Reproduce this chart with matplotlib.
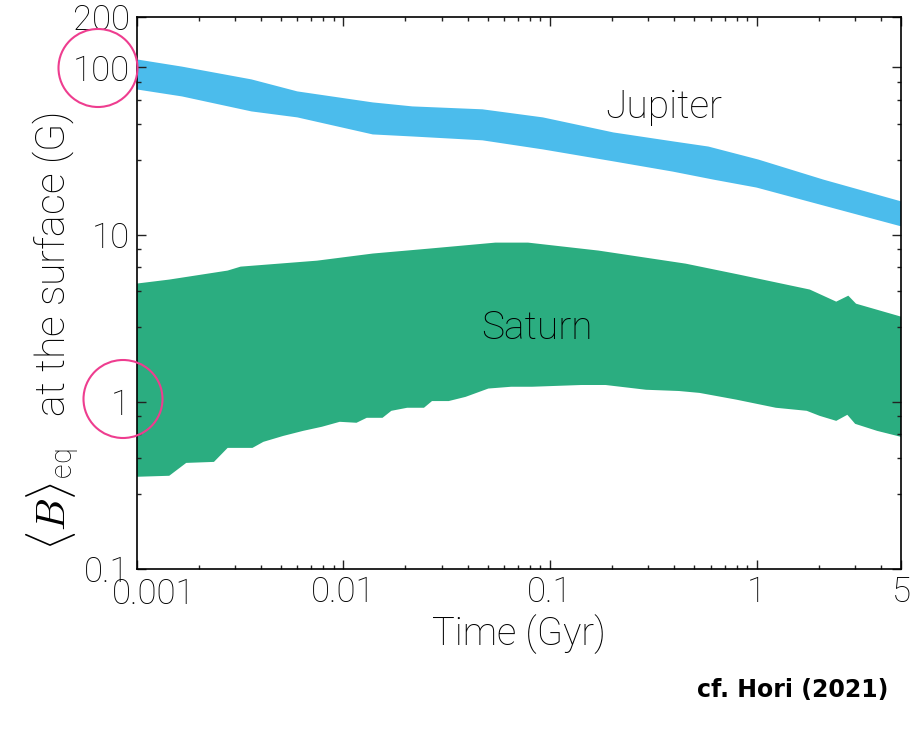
import numpy as np
import matplotlib
matplotlib.use('Agg')
import matplotlib.pyplot as plt
import matplotlib.transforms as mtransforms
from matplotlib.patches import Ellipse

plt.rcParams['font.family'] = ['Roboto', 'DejaVu Sans']
plt.rcParams['font.weight'] = 'light'
plt.rcParams['axes.labelweight'] = 'light'
plt.rcParams['mathtext.fontset'] = 'cm'

# Jupiter band (Gyr, Gauss)
jup_up_t = [0.001, 0.00166, 0.0036, 0.0060, 0.0139, 0.0216, 0.0472, 0.0925, 0.203, 0.393, 0.585, 1.02, 2.11, 5.0]
jup_up_b = [111.6, 101.0, 84.7, 71.8, 61.7, 58.4, 56.1, 50.2, 40.8, 36.1, 33.6, 28.1, 21.3, 15.8]
jup_lo_t = [0.001, 0.00166, 0.0036, 0.0060, 0.0139, 0.0216, 0.0472, 0.0925, 0.203, 0.393, 0.62, 1.0, 5.0]
jup_lo_b = [73.8, 67.0, 54.5, 50.2, 39.7, 38.6, 36.6, 32.3, 27.4, 23.8, 21.3, 19.1, 11.2]

# Saturn band
sat_up_t = [0.001, 0.00144, 0.00276, 0.00319, 0.00747, 0.0139, 0.0260, 0.0545, 0.0784, 0.172,
            0.454, 0.824, 1.81, 2.43, 2.78, 3.03, 5.0]
sat_up_b = [5.09, 5.38, 6.09, 6.43, 6.98, 7.70, 8.24, 8.95, 8.95, 8.02,
            6.70, 5.76, 4.69, 3.97, 4.31, 3.86, 3.23]
sat_lo_t = [0.001, 0.00144, 0.00174, 0.00237, 0.00276, 0.00364, 0.00411, 0.00513, 0.00640, 0.00789,
            0.00962, 0.0116, 0.0130, 0.0155, 0.0171, 0.0204, 0.0246, 0.0269, 0.0324, 0.0391,
            0.0504, 0.0650, 0.0820, 0.142, 0.186, 0.292, 0.421, 0.530, 0.798, 1.24,
            1.75, 2.02, 2.43, 2.75, 3.00, 3.83, 5.0]
sat_lo_b = [0.356, 0.361, 0.431, 0.437, 0.530, 0.530, 0.576, 0.625, 0.670, 0.709,
            0.759, 0.749, 0.802, 0.802, 0.883, 0.921, 0.921, 1.01, 1.01, 1.07,
            1.20, 1.23, 1.23, 1.26, 1.26, 1.18, 1.16, 1.13, 1.03, 0.921,
            0.883, 0.824, 0.769, 0.836, 0.738, 0.670, 0.617]

xticks = [0.001, 0.01, 0.1, 1, 5]
xticklabels = ['0.001', '0.01', '0.1', '1', '5']
yticks = [0.1, 1, 10, 100, 200]
yticklabels = ['0.1', '1', '10', '100', '200']
# minor y ticks are evenly spaced in value (1.8 steps) in the original
yminor = [0.28, 0.46, 0.64, 0.82, 2.8, 4.6, 6.4, 8.2, 28, 46, 64, 82]

fig = plt.figure(figsize=(9.19, 7.37), dpi=100)
ax = fig.add_axes([136.5/919, 1-569/737, (901-136.5)/919, (569-17)/737])

ax.fill(np.concatenate([jup_up_t, jup_lo_t[::-1]]), np.concatenate([jup_up_b, jup_lo_b[::-1]]),
        color='#4bbcec', lw=0)
ax.fill(np.concatenate([sat_up_t, sat_lo_t[::-1]]), np.concatenate([sat_up_b, sat_lo_b[::-1]]),
        color='#2bad80', lw=0)

ax.set_xscale('log')
ax.set_yscale('log')
ax.set_xlim(0.001, 5)
ax.set_ylim(0.1, 200)

ax.set_xticks(xticks)
ax.set_xticklabels(xticklabels)
ax.set_yticks(yticks)
ax.set_yticklabels(yticklabels)
ax.set_yticks(yminor, minor=True)
ax.yaxis.set_minor_formatter(matplotlib.ticker.NullFormatter())
ax.xaxis.set_minor_formatter(matplotlib.ticker.NullFormatter())

ax.tick_params(which='both', direction='in', top=True, right=True, width=1, color='#222222')
ax.tick_params(which='major', length=6.5, labelsize=25, pad=5)
ax.tick_params(which='minor', length=3.2)
for s in ax.spines.values():
    s.set_linewidth(1.2)

# first x label sits a bit to the right in the original
lab0 = ax.get_xticklabels()[0]
lab0.set_transform(lab0.get_transform() + mtransforms.ScaledTranslation(0.17, -0.02, fig.dpi_scale_trans))

ax.set_xlabel('Time (Gyr)', fontsize=27.5, labelpad=2)
ax.set_ylabel(r'$\langle B\rangle_{\mathregular{eq}}$   at the surface (G)', fontsize=29.5)
ax.yaxis.set_label_coords(-0.071, 0.432)

ax.text(0.355, 57.6, 'Jupiter', fontsize=28, ha='center', va='center')
ax.text(0.0869, 2.77, 'Saturn', fontsize=28, ha='center', va='center')

fig.text(888/919, 1-690/737, 'cf. Hori (2021)', fontsize=17, fontweight='bold',
         family='DejaVu Sans', ha='right', va='center')

for cx, cy in [(98, 68), (123, 399)]:
    fig.add_artist(Ellipse((cx/919, 1-cy/737), 79/919, 78/737, transform=fig.transFigure,
                           fill=False, ec='#ee3d8f', lw=1.5))

fig.savefig('out.png', dpi=100)
